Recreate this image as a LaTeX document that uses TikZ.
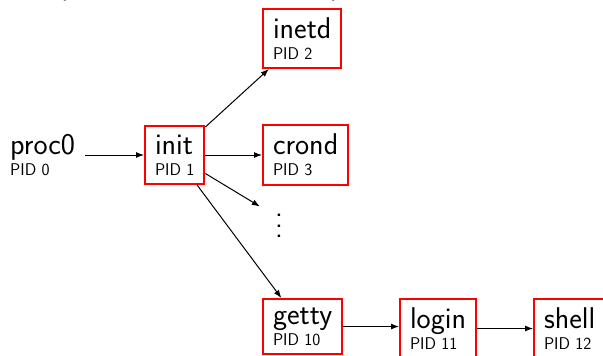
\documentclass[tikz,border=0pt]{standalone}
\usetikzlibrary{arrows.meta}
\newcommand\procname[2]{\vbox{\baselineskip=21pt\lineskiplimit=-100pt\hbox{\fontsize{30}{21}\selectfont #1}\hbox{\fontsize{17}{21}\selectfont #2}}}
\tikzset{
  procbox/.style={draw=red, line width=2pt, inner xsep=10pt, inner ysep=8.6pt, font=\sffamily},
  plainproc/.style={inner xsep=10pt, inner ysep=8.6pt, font=\sffamily},
  arr/.style={-{Latex[length=8pt,width=6pt]}, line width=1pt, black},
  bigtext/.style={font=\sffamily\fontsize{30}{30}\selectfont}
}
\begin{document}
\begin{tikzpicture}[x=1pt,y=-1pt]
\path[use as bounding box] (0,0) rectangle (603,356);
\clip (0,0) rectangle (603,356);
\node[bigtext, anchor=base, inner sep=0pt] (lp) at (62,-6) {(};
\node[bigtext, anchor=base, inner sep=0pt] (rp) at (336,-6) {)};
\node[plainproc, anchor=west] (proc0) at (0,155) {\procname{proc0}{PID 0}};
\node[procbox, anchor=west] (init) at (144,155) {\procname{init}{PID 1}};
\node[procbox, anchor=north west] (inetd) at (262,8) {\procname{inetd}{PID 2}};
\node[procbox, anchor=west] (crond) at (262,155) {\procname{crond}{PID 3}};
\node[bigtext, inner xsep=15pt, inner ysep=0pt] (dots) at (279,218) {\vbox{\kern16pt\baselineskip=10.5pt\lineskiplimit=-100pt\hbox{.}\hbox{.}\hbox{.}}};
\node[procbox, anchor=north west] (getty) at (262,298) {\procname{getty}{PID 10}};
\node[procbox, anchor=north west] (login) at (399,298) {\procname{login}{PID 11}};
\node[procbox, anchor=north west] (shell) at (533,298) {\procname{shell}{PID 12}};
\draw[arr] (proc0) -- (init);
\draw[arr] (init) -- (inetd);
\draw[arr] (init) -- (crond);
\draw[arr] (init) -- (dots);
\draw[arr] (init) -- (getty);
\draw[arr] (getty.east) -- (login.west |- getty.east);
\draw[arr] (login) -- (shell);
\end{tikzpicture}
\end{document}
